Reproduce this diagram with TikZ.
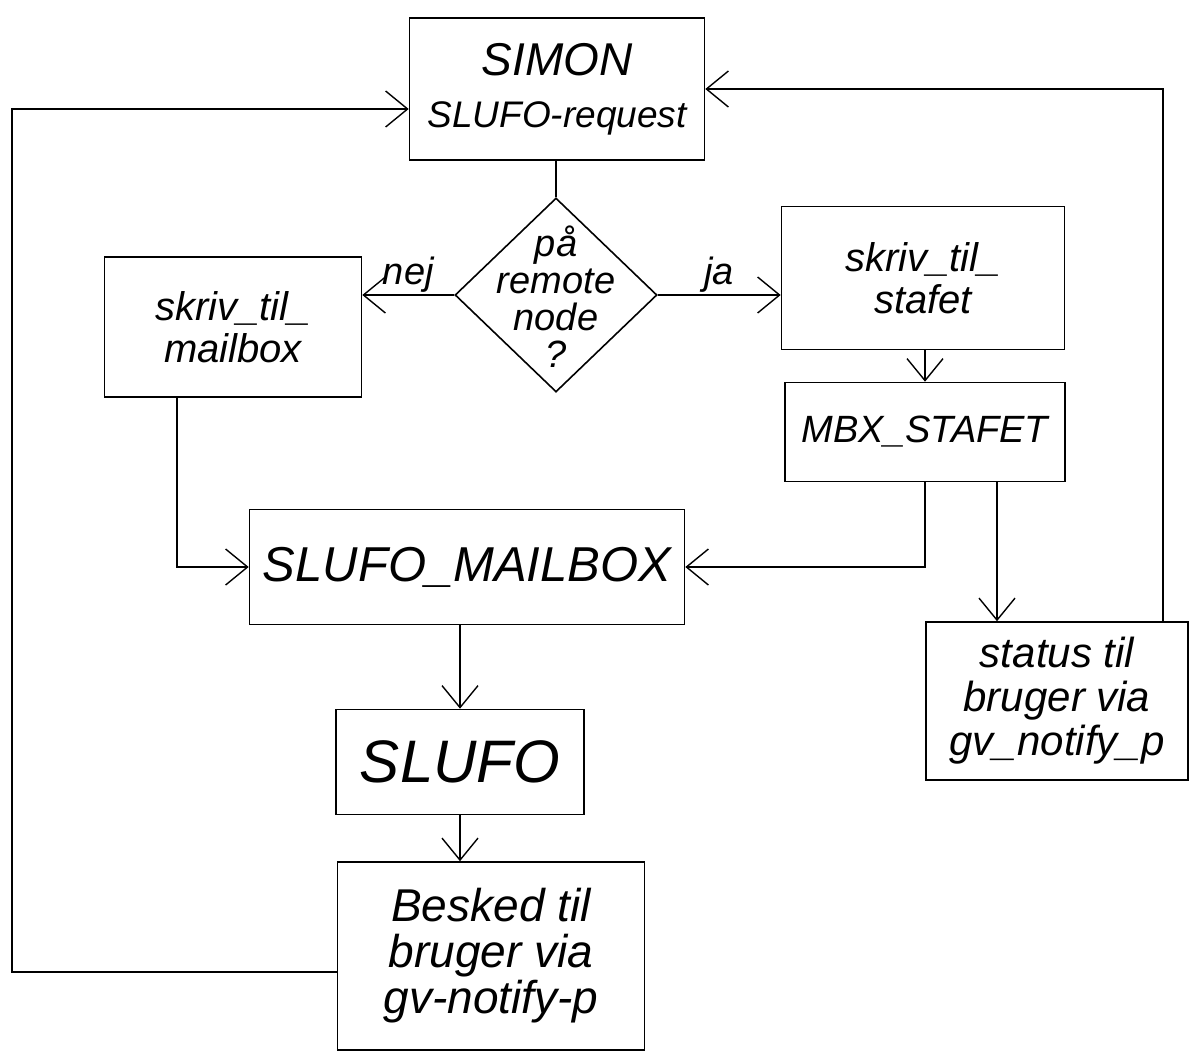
\documentclass[tikz,border=0pt]{standalone}
\usepackage{fontspec}
\setmainfont{Liberation Sans}
\usetikzlibrary{arrows.meta,shapes.geometric}
\begin{document}
\begin{tikzpicture}[x=1pt,y=-1pt,
  box/.style={draw,line width=1.6pt,inner sep=0pt,align=center,
    font=\itshape\fontsize{40}{42}\selectfont},
  arr/.style={line width=1.4pt,-{Straight Barb[length=22pt,width=36pt,line width=1.4pt]}},
  con/.style={line width=1.4pt},
  lbl/.style={font=\itshape\fontsize{38}{40}\selectfont,inner sep=2pt},
  txt/.style={align=center,font=\itshape\fontsize{38}{37}\selectfont}]
\useasboundingbox (0,0) rectangle (1191,1058);
% nodes
\node[box,minimum width=295pt,minimum height=142pt,font=\itshape\fontsize{37}{52}\selectfont] (simon) at (557,89)
  {{\fontsize{46}{50}\selectfont SIMON}\\SLUFO-request};
\node[diamond,draw,line width=1.6pt,minimum width=202pt,minimum height=194pt,inner sep=0pt] (dec) at (556,295) {};
\node[txt] (dectxt) at ([yshift=-2pt]dec.center) {på\\remote\\node\\?};
\node[box,minimum width=257pt,minimum height=140pt] (mailbox) at (233,327)
  {skriv\_til\_\\mailbox};
\node[box,minimum width=283pt,minimum height=143pt] (stafet) at (923,278)
  {skriv\_til\_\\stafet};
\node[box,minimum width=280pt,minimum height=99pt,font=\itshape\fontsize{38}{42}\selectfont] (mbx) at (925,432)
  {MBX\_STAFET};
\node[box,minimum width=435pt,minimum height=115pt,font=\itshape\fontsize{49}{52}\selectfont] (smb) at (467,567)
  {SLUFO\_MAILBOX};
\node[box,minimum width=248pt,minimum height=105pt,font=\itshape\fontsize{60}{62}\selectfont] (slufo) at (460,762)
  {SLUFO};
\node[box,minimum width=307pt,minimum height=188pt,font=\itshape\fontsize{46}{46}\selectfont] (besked) at (491,956)
  {Besked til\\bruger via\\gv-notify-p};
\node[box,minimum width=262pt,minimum height=158pt,font=\itshape\fontsize{42}{44}\selectfont] (status) at (1057,701)
  {status til\\bruger via\\gv\_notify\_p};
% helper coordinates
\coordinate (m2) at ([xshift=72pt]mbx.south);
\coordinate (s2) at ([xshift=106pt]status.north);
\coordinate (mb2) at ([xshift=-56pt]mailbox.south);
\coordinate (bw) at ([yshift=-16pt]besked.west);
\coordinate (sw) at ([yshift=-20pt]simon.west);
\coordinate (lc) at (12,500);
% connectors
\draw[con] (simon.south -| dec.north) -- (dec.north);
\draw[arr] (dec.west) -- node[lbl,above] (nej) {nej} (mailbox.east |- dec.west);
\draw[arr] (dec.east) -- node[lbl,above] (ja) {ja} (stafet.west |- dec.east);
\draw[arr] (stafet.south -| mbx.north) -- (mbx.north);
\draw[arr] (mbx.south) |- (smb.east);
\draw[arr] (m2) -- (m2 |- status.north);
\draw[arr] (s2) |- (simon.east);
\draw[arr] (mb2) |- (smb.west);
\draw[arr] (slufo.north |- smb.south) -- (slufo.north);
\draw[arr] (slufo.south) -- (slufo.south |- besked.north);
\draw[arr] (bw) -- (bw -| lc) -- (lc |- sw) -- (sw);
\end{tikzpicture}
\end{document}
